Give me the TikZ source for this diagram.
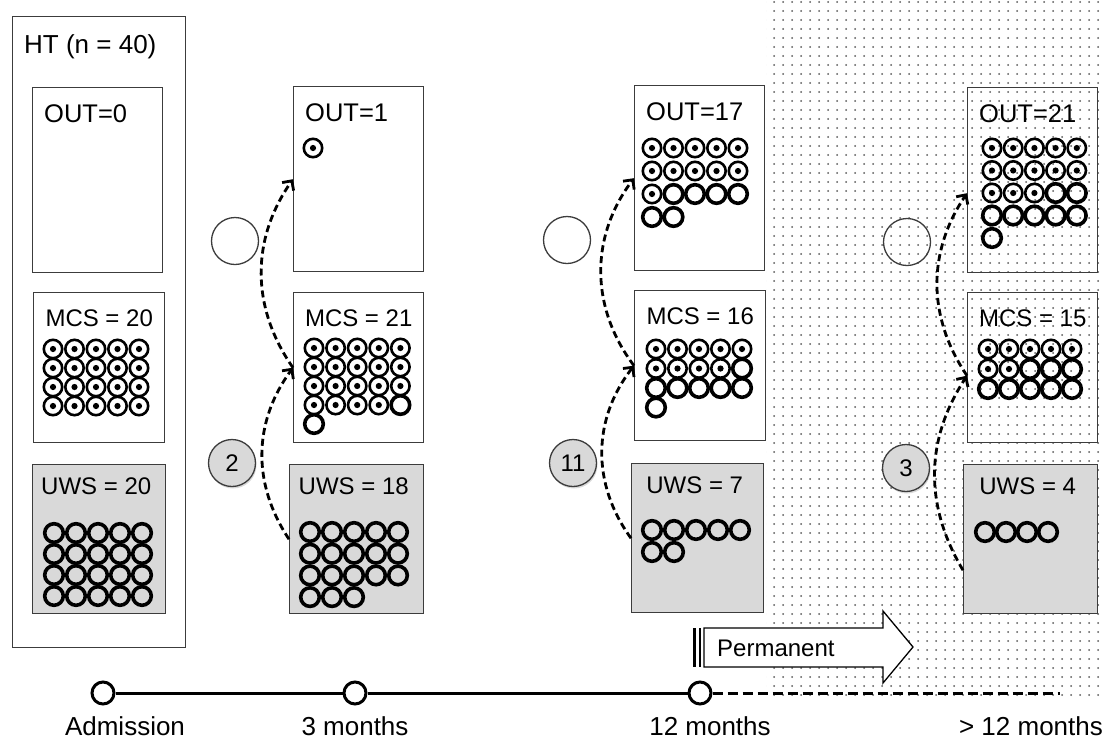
\documentclass[tikz,border=0pt]{standalone}
\usepackage{fontspec}
\setmainfont{Liberation Sans}
\usetikzlibrary{arrows.meta,positioning,calc,patterns.meta,shadows}
\definecolor{boxgray}{RGB}{217,217,217}
\definecolor{edgegray}{RGB}{60,60,60}

% rings in rows of five: first centre (#1,#2), pitch (#3,#4),
% #5 rings with a dot, #6 rings in all
\newcommand{\ringgrid}[6]{%
  \foreach \i in {1,...,#6}{%
    \pgfmathtruncatemacro{\col}{mod(\i-1,5)}%
    \pgfmathtruncatemacro{\row}{div(\i-1,5)}%
    \ifnum\i>#5\relax
      \draw[wsring] (#1+\col*#3,#2+\row*#4) circle[radius=9.3];
    \else
      \draw[csring] (#1+\col*#3,#2+\row*#4) circle[radius=9.2];
      \fill (#1+\col*#3,#2+\row*#4) circle[radius=3.1];
    \fi
  }}

\begin{document}
\begin{tikzpicture}[
    x=1pt, y=-1pt,
    box/.style={draw=edgegray, line width=1.4pt, anchor=north west,
      inner sep=0pt, fill=white},
    outbox/.style={box, minimum width=130, minimum height=185},
    mcsbox/.style={box, minimum width=131, minimum height=150},
    uwsbox/.style={box, fill=boxgray, minimum width=133, minimum height=149},
    lbl/.style={font=\fontsize{24}{28}\selectfont, inner sep=0pt},
    outlbl/.style={font=\fontsize{25.5}{30}\selectfont, inner sep=0pt,
      anchor=base west},
    timelbl/.style={font=\fontsize{26}{30}\selectfont, inner sep=0pt,
      anchor=base},
    bubble/.style={circle, draw=edgegray, line width=1.3pt, fill=white,
      minimum size=47, inner sep=0pt},
    numbubble/.style={bubble, fill=boxgray, font=\fontsize{24}{28}\selectfont,
      drop shadow={shadow xshift=1pt, shadow yshift=-2pt, opacity=0.3}},
    csring/.style={line width=2.6pt},
    wsring/.style={line width=3.6pt},
    flow/.style={dash pattern=on 7pt off 4pt, line width=2.8pt,
      -{Straight Barb[length=7pt,width=14pt]}},
    tdot/.style={circle, draw=black, line width=3pt, fill=white,
      minimum size=22, inner sep=0pt},
    tline/.style={line width=3pt},
  ]
  \useasboundingbox (0,0) rectangle (1105,740);

  % dotted area after 12 months
  \fill[pattern={Dots[distance=9pt,radius=1pt]}, pattern color=black!65]
    (766,0) rectangle (1100,696);

  % --- ADMISSION ---
  \node[box, minimum width=173, minimum height=631] (ht) at (12,16) {};
  \node[lbl, font=\fontsize{26}{30}\selectfont, anchor=base west] (htl)
    at (24,53) {HT (n = 40)};
  \node[outbox] (out0) at (32,87) {};
  \node[mcsbox] (mcs0) at (33,292) {};
  \node[uwsbox] (uws0) at (32,464) {};

  % --- 3 MONTHS ---
  \node[outbox] (out1) at (293,86) {};
  \node[mcsbox, minimum width=130] (mcs1) at (293,292) {};
  \node[uwsbox, minimum width=134] (uws1) at (289,464) {};

  % --- 12 MONTHS ---
  \node[outbox] (out2) at (634,85) {};
  \node[mcsbox] (mcs2) at (634,290) {};
  \node[uwsbox, minimum width=132] (uws2) at (631,463) {};

  % --- > 12 MONTHS ---
  \node[outbox, fill=none] (out3) at (967,87) {};
  \node[mcsbox, fill=none, minimum width=130] (mcs3) at (967,292) {};
  \node[uwsbox, minimum width=134] (uws3) at (963,464) {};

  % box labels
  \foreach \b/\t in {out0/0, out1/1, out2/17, out3/21}
    \node[outlbl] (l\b) at ([shift={(12,35)}]\b.north west) {OUT=\t};
  \foreach \b/\t in {mcs0/20, mcs1/21, mcs2/16, mcs3/15}
    \node[lbl, anchor=base] (l\b) at ([shift={(0,34)}]\b.north) {MCS = \t};
  \foreach \b/\t in {uws0/20, uws1/18, uws2/7, uws3/4}
    \node[lbl, anchor=base] (l\b) at ([shift={(-3,30)}]\b.north) {UWS = \t};

  % patients
  \ringgrid{53}{349}{21.5}{19}{20}{20}
  \ringgrid{54}{533}{22}{21}{0}{20}
  \ringgrid{313}{148}{21.5}{19}{1}{1}
  \ringgrid{314}{348}{21.6}{19}{19}{21}
  \ringgrid{310}{532}{22}{21.7}{0}{18}
  \ringgrid{652}{148}{21.5}{23}{11}{17}
  \ringgrid{656}{349}{21.5}{19.5}{9}{16}
  \ringgrid{652}{530}{22}{22}{0}{7}
  \ringgrid{992}{148}{21.2}{22.5}{13}{21}
  \ringgrid{988}{349}{21}{20}{7}{15}
  \ringgrid{985}{532}{21}{20}{0}{4}

  % transitions
  \node[bubble] (e1) at (235,241) {};
  \node[bubble] (e2) at (567,240) {};
  \node[bubble, fill=none] (e3) at (907,242) {};
  \node[numbubble] (n1) at (232,463) {2};
  \node[numbubble] (n2) at (573,463) {11};
  \node[numbubble] (n3) at (906,468) {3};

  \draw[flow] (uws1.west) to[bend left=35] (mcs1.west);
  \draw[flow] (mcs1.west) to[bend left=35] (out1.west);
  \draw[flow] (uws2.west) to[bend left=37] (mcs2.west);
  \draw[flow] (mcs2.west) to[bend left=37] (out2.west);
  \draw[flow] ([yshift=-31pt]uws3.west) to[bend left=32] ([yshift=-8pt]mcs3.west);
  \draw[flow] ([yshift=-8pt]mcs3.west) to[bend left=34] ([yshift=-13pt]out3.west);

  % permanent arrow
  \fill[black] (693,628) rectangle (696,667);
  \fill[black] (699,628) rectangle (701,667);
  \draw[line width=1.3pt, fill=white] (704,628) -- (883,628) -- (883,611)
    -- (913,647) -- (883,683) -- (883,667) -- (704,667) -- cycle;
  \node[lbl, anchor=base west] (perm) at (717,656) {Permanent};

  % time line
  \node[tdot] (t0) at (103,693) {};
  \node[tdot] (t1) at (355,693) {};
  \node[tdot] (t2) at (700,693) {};
  \coordinate (tend) at (1060,693);
  \draw[tline] (t0) -- (t1);
  \draw[tline] (t1) -- (t2);
  \draw[tline, dash pattern=on 10pt off 5pt] (t2) -- (tend);

  \node[timelbl] (a0) at (125,735) {Admission};
  \node[timelbl] (a1) at (355,735) {3 months};
  \node[timelbl] (a2) at (710,735) {12 months};
  \node[timelbl] (a3) at (1031,735) {> 12 months};

\end{tikzpicture}
\end{document}
